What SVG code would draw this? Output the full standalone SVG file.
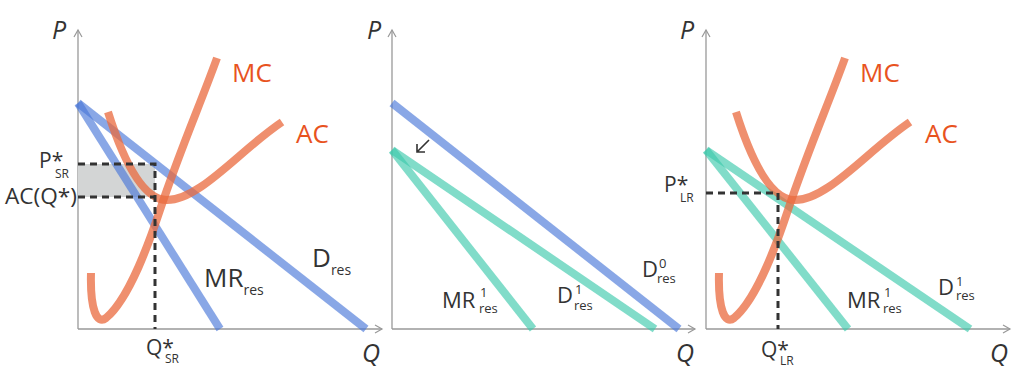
<svg xmlns="http://www.w3.org/2000/svg" width="1024" height="381" viewBox="0 0 1024 381">
<style>
text{font-family:"Open Sans","Liberation Sans",sans-serif;fill:#333}
.ax{stroke:#999;stroke-width:1.3;fill:none}
.axl{font-style:italic;font-size:25px}
.or{fill:#e8531f;font-size:26px}
.blue{stroke:#4a78d8;stroke-opacity:.65;stroke-width:8;fill:none}
.teal{stroke:#3ec9ac;stroke-opacity:.65;stroke-width:8;fill:none}
.orc{stroke:#ea6a3e;stroke-opacity:.75;stroke-width:8;fill:none}
.dash{stroke:#333;stroke-width:3;stroke-dasharray:7 5;fill:none}
.big{font-size:26px}
.mid{font-size:22px}
.lab{font-size:21px}
.s14{font-size:14px}
.s13{font-size:13px}
.s12{font-size:12px}
</style>
<defs>
<marker id="ah" markerWidth="10" markerHeight="10" refX="8" refY="5" orient="auto" markerUnits="userSpaceOnUse">
<path d="M1,1 L8,5 L1,9" fill="none" stroke="#999" stroke-width="1.2"/>
</marker>
<path id="mc" d="M91,273 C90,310 97,325 106,318 C130,298 150,240 160,210 C180,150 200,105 217,58"/>
<path id="ac" d="M108,112 C120,150 140,200 167,200 C200,200 240,150 282,122"/>
</defs>

<g id="axes">
<path class="ax" d="M78,329 V30" marker-end="url(#ah)"/>
<path class="ax" d="M78,329 H382" marker-end="url(#ah)"/>
<path class="ax" d="M392,329 V30" marker-end="url(#ah)"/>
<path class="ax" d="M392,329 H695" marker-end="url(#ah)"/>
<path class="ax" d="M706,329 V30" marker-end="url(#ah)"/>
<path class="ax" d="M706,329 H1010" marker-end="url(#ah)"/>
<text class="axl" x="52" y="39">P</text>
<text class="axl" x="362" y="362">Q</text>
<text class="axl" x="367" y="39">P</text>
<text class="axl" x="676" y="362">Q</text>
<text class="axl" x="680" y="39">P</text>
<text class="axl" x="990" y="362">Q</text>
</g>

<g id="panel-sr">
<rect x="78" y="164" width="77" height="33" fill="#d3d5d5"/>
<g id="d-res"><path class="blue" d="M78,103 L366,329"/>
<text class="big" x="312" y="267">D<tspan class="s14" dy="8">res</tspan></text></g>
<g id="mr-res"><path class="blue" d="M78,103 L220,329"/>
<text class="big" x="204" y="287">MR<tspan class="s14" dy="8">res</tspan></text></g>
<g id="mc-sr"><use href="#mc" class="orc"/><text class="or" x="232" y="82">MC</text></g>
<g id="ac-sr"><use href="#ac" class="orc"/><text class="or" x="296" y="143">AC</text></g>
<g id="sr-markers">
<path class="dash" d="M78,164 H155 V329 M78,197 H155"/>
<text class="lab" x="39" y="168">P*<tspan class="s12" x="55" dy="10">SR</tspan></text>
<text class="lab" x="77" y="204" text-anchor="end" textLength="72" lengthAdjust="spacingAndGlyphs">AC(Q*)</text>
<text class="lab" x="146" y="355">Q*<tspan class="s12" x="165" dy="8">SR</tspan></text>
</g>
</g>

<g id="panel-shift">
<g id="d0"><path class="blue" d="M392,103 L679,329"/>
<text class="mid" x="642" y="277">D<tspan class="s13" x="659" dy="-9">0</tspan><tspan class="s13" x="657" dy="15">res</tspan></text></g>
<g id="d1-mid"><path class="teal" d="M392,150 L655,329"/>
<text class="mid" x="557" y="303">D<tspan class="s13" x="575" dy="-9">1</tspan><tspan class="s13" x="574" dy="16">res</tspan></text></g>
<g id="mr1-mid"><path class="teal" d="M392,150 L533,329"/>
<text class="mid" x="442" y="308">MR<tspan class="s13" x="480" dy="-11">1</tspan><tspan class="s13" x="479" dy="16">res</tspan></text></g>
<g id="shift-arrow"><path d="M429,140 L417,152 M417,144 V152 H425" fill="none" stroke="#333" stroke-width="1.6"/></g>
</g>

<g id="panel-lr">
<g id="d1-lr"><path class="teal" d="M706,150 L970,329"/>
<text class="mid" x="938" y="295">D<tspan class="s13" x="956" dy="-9">1</tspan><tspan class="s13" x="956" dy="14">res</tspan></text></g>
<g id="mr1-lr"><path class="teal" d="M706,150 L848,329"/>
<text class="mid" x="847" y="308">MR<tspan class="s13" x="884" dy="-11">1</tspan><tspan class="s13" x="883" dy="16">res</tspan></text></g>
<g id="mc-lr"><use href="#mc" class="orc" transform="translate(628,0)"/><text class="or" x="860" y="82">MC</text></g>
<g id="ac-lr"><use href="#ac" class="orc" transform="translate(628,0)"/><text class="or" x="925" y="143">AC</text></g>
<g id="lr-markers">
<path class="dash" d="M706,193 H778 V329"/>
<text class="lab" x="664" y="192">P*<tspan class="s12" x="680" dy="10">LR</tspan></text>
<text class="lab" x="761" y="357">Q*<tspan class="s12" x="780" dy="8">LR</tspan></text>
</g>
</g>
</svg>
